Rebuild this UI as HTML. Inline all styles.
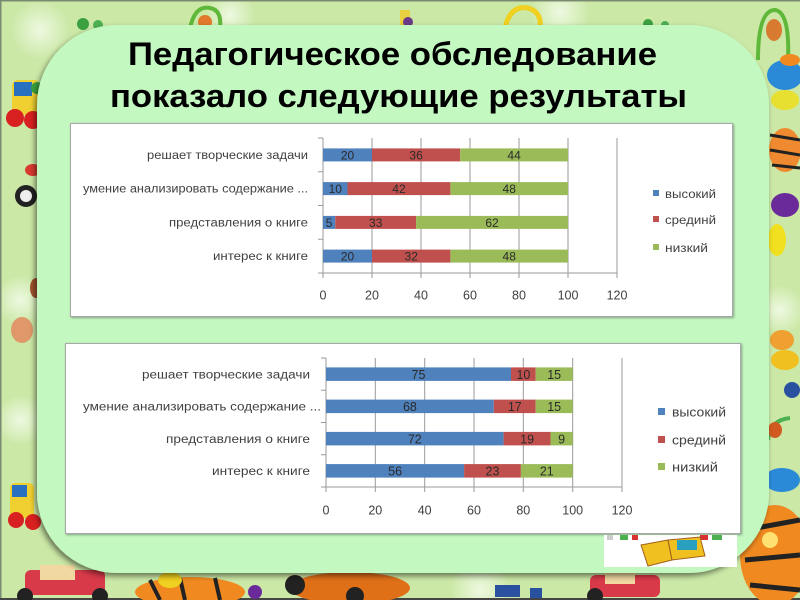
<!DOCTYPE html>
<html><head><meta charset="utf-8">
<style>
html,body{margin:0;padding:0;background:#cde9a8;}
svg{display:block;}
text{font-family:"Liberation Sans",sans-serif;}
</style></head>
<body>
<svg width="800" height="600" viewBox="0 0 800 600" xmlns="http://www.w3.org/2000/svg">
<defs>
<radialGradient id="bgspot" cx="0.5" cy="0.5" r="0.5">
<stop offset="0" stop-color="#f2fbe8" stop-opacity="0.9"/>
<stop offset="1" stop-color="#f2fbe8" stop-opacity="0"/>
</radialGradient>
<filter id="sh" x="-5%" y="-5%" width="110%" height="110%">
<feGaussianBlur in="SourceAlpha" stdDeviation="3"/>
<feOffset dx="-2" dy="3" result="b"/>
<feComponentTransfer><feFuncA type="linear" slope="0.5"/></feComponentTransfer>
<feMerge><feMergeNode/><feMergeNode in="SourceGraphic"/></feMerge>
</filter>
<filter id="sh2" x="-5%" y="-5%" width="110%" height="110%">
<feGaussianBlur in="SourceAlpha" stdDeviation="1.2"/>
<feOffset dx="1" dy="1" result="b"/>
<feComponentTransfer><feFuncA type="linear" slope="0.35"/></feComponentTransfer>
<feMerge><feMergeNode/><feMergeNode in="SourceGraphic"/></feMerge>
</filter>
</defs>

<!-- background -->
<rect x="0" y="0" width="800" height="600" fill="#cbe8a6"/>
<circle cx="40" cy="30" r="30" fill="url(#bgspot)"/>
<circle cx="230" cy="15" r="25" fill="url(#bgspot)"/>
<circle cx="560" cy="12" r="30" fill="url(#bgspot)"/>
<circle cx="20" cy="300" r="25" fill="url(#bgspot)"/>
<circle cx="20" cy="420" r="25" fill="url(#bgspot)"/>
<circle cx="780" cy="310" r="25" fill="url(#bgspot)"/>
<circle cx="480" cy="590" r="30" fill="url(#bgspot)"/>
<rect x="0" y="0" width="800" height="1.5" fill="#7a8a70"/>
<rect x="0" y="0" width="1.5" height="600" fill="#7a8a70"/>
<rect x="0" y="598" width="800" height="2" fill="#444"/>

<!-- top toys -->
<path d="M190 28 Q195 5 210 8 Q222 10 220 28" fill="none" stroke="#5fb83a" stroke-width="4"/>
<circle cx="205" cy="22" r="7" fill="#e07a2a"/>
<circle cx="83" cy="24" r="6" fill="#3aa040"/>
<circle cx="98" cy="25" r="5" fill="#4cb050"/>
<rect x="400" y="10" width="10" height="18" fill="#e8d040"/>
<circle cx="408" cy="22" r="5" fill="#6a3a8a"/>
<path d="M505 28 Q510 5 528 8 Q542 12 540 28" fill="none" stroke="#f0d020" stroke-width="5"/>
<circle cx="648" cy="24" r="5" fill="#3aa040"/>
<circle cx="665" cy="25" r="4" fill="#4cb050"/>
<!-- right toys -->
<path d="M758 60 Q758 10 775 10 Q790 12 788 60" fill="none" stroke="#5fb83a" stroke-width="4"/>
<ellipse cx="774" cy="30" rx="8" ry="11" fill="#d87a30"/>
<ellipse cx="785" cy="75" rx="18" ry="15" fill="#2a8ad8"/>
<ellipse cx="790" cy="60" rx="10" ry="6" fill="#f08a20"/>
<ellipse cx="785" cy="100" rx="14" ry="10" fill="#e8e030"/>
<ellipse cx="785" cy="150" rx="16" ry="22" fill="#f08a30"/>
<path d="M770 135 L800 140 M770 150 L800 155 M772 165 L800 168" stroke="#222" stroke-width="3"/>
<ellipse cx="785" cy="205" rx="14" ry="12" fill="#6a2a9a"/>
<ellipse cx="777" cy="240" rx="9" ry="16" fill="#f0e020"/>
<ellipse cx="782" cy="340" rx="12" ry="10" fill="#f0a030"/>
<ellipse cx="785" cy="360" rx="14" ry="10" fill="#f0c020"/>
<circle cx="792" cy="390" r="8" fill="#2a50a0"/>
<path d="M768 440 Q770 420 790 418" fill="none" stroke="#4cb050" stroke-width="4"/>
<ellipse cx="775" cy="430" rx="7" ry="8" fill="#d05a20"/>
<ellipse cx="782" cy="480" rx="18" ry="12" fill="#2a8ad8"/>
<!-- right bottom tiger -->
<ellipse cx="775" cy="555" rx="35" ry="50" fill="#f08a20"/>
<path d="M745 530 L800 520 M745 560 L800 555 M750 585 L800 590" stroke="#222" stroke-width="5"/>
<circle cx="770" cy="540" r="8" fill="#ffe070"/>
<!-- left toys -->
<rect x="12" y="80" width="28" height="35" rx="6" fill="#f0d030"/>
<rect x="14" y="82" width="18" height="14" fill="#2a70c0"/>
<circle cx="15" cy="118" r="9" fill="#d82020"/>
<circle cx="33" cy="120" r="9" fill="#d82020"/>
<circle cx="37" cy="88" r="6" fill="#3aa040"/>
<ellipse cx="33" cy="170" rx="8" ry="6" fill="#d83a30"/>
<circle cx="26" cy="196" r="11" fill="#222"/>
<circle cx="26" cy="196" r="6" fill="#eee"/>
<ellipse cx="36" cy="288" rx="6" ry="10" fill="#a0522d"/>
<ellipse cx="22" cy="330" rx="11" ry="13" fill="#e0986a"/>
<rect x="10" y="483" width="24" height="35" rx="5" fill="#f0d030"/>
<rect x="12" y="485" width="15" height="12" fill="#2a70c0"/>
<circle cx="16" cy="520" r="8" fill="#d82020"/>
<circle cx="33" cy="522" r="8" fill="#d82020"/>
<!-- bottom toys -->
<rect x="25" y="570" width="80" height="25" rx="6" fill="#d83a4a"/>
<rect x="40" y="565" width="35" height="15" fill="#f0d8a0"/>
<circle cx="25" cy="596" r="8" fill="#222"/>
<circle cx="100" cy="596" r="8" fill="#222"/>
<ellipse cx="190" cy="592" rx="55" ry="15" fill="#f08a20"/>
<path d="M150 580 L160 600 M180 578 L185 600 M215 578 L220 600" stroke="#222" stroke-width="4"/>
<ellipse cx="170" cy="580" rx="12" ry="8" fill="#f0d020"/>
<circle cx="255" cy="592" r="7" fill="#6a2a9a"/>
<ellipse cx="350" cy="588" rx="60" ry="16" fill="#e07018"/>
<circle cx="295" cy="585" r="10" fill="#222"/>
<circle cx="355" cy="596" r="9" fill="#222"/>
<rect x="495" y="585" width="25" height="12" fill="#2a50a0"/>
<rect x="530" y="588" width="12" height="10" fill="#2a50a0"/>
<rect x="590" y="575" width="70" height="22" rx="6" fill="#d83a4a"/>
<rect x="605" y="572" width="30" height="12" fill="#f0d8a0"/>
<circle cx="595" cy="596" r="8" fill="#222"/>

<!-- main panel -->
<rect x="37" y="25" width="732" height="548" rx="80" ry="80" fill="#c3f8c1" filter="url(#sh)"/>

<!-- title -->
<text x="392.5" y="65" font-size="32" font-weight="bold" text-anchor="middle" fill="#000" textLength="529" lengthAdjust="spacingAndGlyphs">Педагогическое обследование</text>
<text x="398.5" y="107" font-size="32" font-weight="bold" text-anchor="middle" fill="#000" textLength="577" lengthAdjust="spacingAndGlyphs">показало следующие результаты</text>

<!-- chart 1 -->
<rect x="70.5" y="123.5" width="662" height="193" fill="#fff" stroke="#a8a8a8" stroke-width="1" filter="url(#sh2)"/>
<g stroke="#9a9a9a" stroke-width="1">
<line x1="372" y1="138" x2="372" y2="278"/>
<line x1="421" y1="138" x2="421" y2="278"/>
<line x1="470" y1="138" x2="470" y2="278"/>
<line x1="519" y1="138" x2="519" y2="278"/>
<line x1="568" y1="138" x2="568" y2="278"/>
<line x1="617" y1="138" x2="617" y2="278"/>
<line x1="323" y1="138" x2="323" y2="278"/>
<line x1="318" y1="273" x2="617" y2="273"/>
<line x1="318" y1="138" x2="323" y2="138"/>
<line x1="318" y1="171.75" x2="323" y2="171.75"/>
<line x1="318" y1="205.5" x2="323" y2="205.5"/>
<line x1="318" y1="239.25" x2="323" y2="239.25"/>
</g>
<!-- bars chart1 -->
<rect x="323" y="148.4" width="49" height="13" fill="#4f81bd"/>
<rect x="372" y="148.4" width="88.2" height="13" fill="#c0504d"/>
<rect x="460.2" y="148.4" width="107.8" height="13" fill="#9bbb59"/>
<rect x="323" y="182.1" width="24.5" height="13" fill="#4f81bd"/>
<rect x="347.5" y="182.1" width="102.9" height="13" fill="#c0504d"/>
<rect x="450.4" y="182.1" width="117.6" height="13" fill="#9bbb59"/>
<rect x="323" y="215.9" width="12.25" height="13" fill="#4f81bd"/>
<rect x="335.25" y="215.9" width="80.85" height="13" fill="#c0504d"/>
<rect x="416.1" y="215.9" width="151.9" height="13" fill="#9bbb59"/>
<rect x="323" y="249.6" width="49" height="13" fill="#4f81bd"/>
<rect x="372" y="249.6" width="78.4" height="13" fill="#c0504d"/>
<rect x="450.4" y="249.6" width="117.6" height="13" fill="#9bbb59"/>
<g font-size="12" fill="#2a2a2a" text-anchor="middle">
<text x="347.5" y="159.5">20</text><text x="416.1" y="159.5">36</text><text x="514.1" y="159.5">44</text>
<text x="335.25" y="193">10</text><text x="398.95" y="193">42</text><text x="509.2" y="193">48</text>
<text x="329.1" y="227">5</text><text x="375.7" y="227">33</text><text x="492" y="227">62</text>
<text x="347.5" y="260.5">20</text><text x="411.2" y="260.5">32</text><text x="509.2" y="260.5">48</text>
</g>
<g font-size="11.5" fill="#404040" text-anchor="end">
<text x="308" y="159" textLength="161" lengthAdjust="spacingAndGlyphs">решает творческие задачи</text>
<text x="308" y="192.5" textLength="225" lengthAdjust="spacingAndGlyphs">умение анализировать содержание ...</text>
<text x="308" y="226.5" textLength="139" lengthAdjust="spacingAndGlyphs">представления о книге</text>
<text x="308" y="260" textLength="95" lengthAdjust="spacingAndGlyphs">интерес к книге</text>
</g>
<g font-size="12.5" fill="#404040" text-anchor="middle">
<text x="323" y="299.5">0</text><text x="372" y="299.5">20</text><text x="421" y="299.5">40</text>
<text x="470" y="299.5">60</text><text x="519" y="299.5">80</text><text x="568" y="299.5">100</text><text x="617" y="299.5">120</text>
</g>
<rect x="653" y="190" width="6" height="6" fill="#4f81bd"/>
<rect x="653" y="216" width="6" height="6" fill="#c0504d"/>
<rect x="653" y="244" width="6" height="6" fill="#9bbb59"/>
<g font-size="12" fill="#404040">
<text x="665" y="198" textLength="51" lengthAdjust="spacingAndGlyphs">высокий</text>
<text x="665" y="224" textLength="51" lengthAdjust="spacingAndGlyphs">срединй</text>
<text x="665" y="252" textLength="43" lengthAdjust="spacingAndGlyphs">низкий</text>
</g>

<!-- chart 2 -->
<rect x="65.5" y="343.5" width="675" height="190" fill="#fff" stroke="#a8a8a8" stroke-width="1" filter="url(#sh2)"/>
<g stroke="#9a9a9a" stroke-width="1">
<line x1="375.3" y1="358" x2="375.3" y2="492"/>
<line x1="424.7" y1="358" x2="424.7" y2="492"/>
<line x1="474" y1="358" x2="474" y2="492"/>
<line x1="523.3" y1="358" x2="523.3" y2="492"/>
<line x1="572.7" y1="358" x2="572.7" y2="492"/>
<line x1="622" y1="358" x2="622" y2="492"/>
<line x1="326" y1="358" x2="326" y2="492"/>
<line x1="321" y1="487" x2="622" y2="487"/>
<line x1="321" y1="358" x2="326" y2="358"/>
<line x1="321" y1="390.25" x2="326" y2="390.25"/>
<line x1="321" y1="422.5" x2="326" y2="422.5"/>
<line x1="321" y1="454.75" x2="326" y2="454.75"/>
</g>
<rect x="326" y="367.4" width="185" height="13.5" fill="#4f81bd"/>
<rect x="511" y="367.4" width="24.7" height="13.5" fill="#c0504d"/>
<rect x="535.7" y="367.4" width="37" height="13.5" fill="#9bbb59"/>
<rect x="326" y="399.6" width="167.8" height="13.5" fill="#4f81bd"/>
<rect x="493.8" y="399.6" width="41.9" height="13.5" fill="#c0504d"/>
<rect x="535.7" y="399.6" width="37" height="13.5" fill="#9bbb59"/>
<rect x="326" y="431.9" width="177.6" height="13.5" fill="#4f81bd"/>
<rect x="503.6" y="431.9" width="46.9" height="13.5" fill="#c0504d"/>
<rect x="550.5" y="431.9" width="22.2" height="13.5" fill="#9bbb59"/>
<rect x="326" y="464.1" width="138.1" height="13.5" fill="#4f81bd"/>
<rect x="464.1" y="464.1" width="56.8" height="13.5" fill="#c0504d"/>
<rect x="520.9" y="464.1" width="51.8" height="13.5" fill="#9bbb59"/>
<g font-size="12.5" fill="#2a2a2a" text-anchor="middle">
<text x="418.5" y="379">75</text><text x="523.4" y="379">10</text><text x="554.2" y="379">15</text>
<text x="409.9" y="411">68</text><text x="514.8" y="411">17</text><text x="554.2" y="411">15</text>
<text x="414.8" y="443.5">72</text><text x="527.1" y="443.5">19</text><text x="561.6" y="443.5">9</text>
<text x="395.1" y="475.5">56</text><text x="492.5" y="475.5">23</text><text x="546.8" y="475.5">21</text>
</g>
<g font-size="11.5" fill="#404040" text-anchor="end">
<text x="310" y="378.5" textLength="168" lengthAdjust="spacingAndGlyphs">решает творческие задачи</text>
<text x="321" y="410.5" textLength="238" lengthAdjust="spacingAndGlyphs">умение анализировать содержание ...</text>
<text x="310" y="443" textLength="144" lengthAdjust="spacingAndGlyphs">представления о книге</text>
<text x="310" y="475" textLength="98" lengthAdjust="spacingAndGlyphs">интерес к книге</text>
</g>
<g font-size="12.5" fill="#404040" text-anchor="middle">
<text x="326" y="514.5">0</text><text x="375.3" y="514.5">20</text><text x="424.7" y="514.5">40</text>
<text x="474" y="514.5">60</text><text x="523.3" y="514.5">80</text><text x="572.7" y="514.5">100</text><text x="622" y="514.5">120</text>
</g>
<rect x="658" y="408" width="7" height="7" fill="#4f81bd"/>
<rect x="658" y="436" width="7" height="7" fill="#c0504d"/>
<rect x="658" y="463" width="7" height="7" fill="#9bbb59"/>
<g font-size="12.5" fill="#404040">
<text x="672" y="416.5" textLength="54" lengthAdjust="spacingAndGlyphs">высокий</text>
<text x="672" y="444.5" textLength="54" lengthAdjust="spacingAndGlyphs">срединй</text>
<text x="672" y="471.5" textLength="46" lengthAdjust="spacingAndGlyphs">низкий</text>
</g>

<!-- bottom-right picture -->
<rect x="604" y="535" width="133" height="32" fill="#fff"/>
<rect x="607" y="535" width="6" height="5" fill="#ccc"/>
<rect x="620" y="535" width="8" height="5" fill="#4cb050"/>
<rect x="632" y="535" width="6" height="5" fill="#d83030"/>
<rect x="700" y="535" width="8" height="5" fill="#d83030"/>
<rect x="712" y="535" width="10" height="5" fill="#4cb050"/>
<path d="M641 545 L668 540 L672 560 L648 566 Z" fill="#f0c020" stroke="#a0601a" stroke-width="1"/>
<path d="M668 540 L700 537 L705 556 L672 560 Z" fill="#f0c020" stroke="#a0601a" stroke-width="1"/>
<rect x="677" y="540" width="20" height="10" fill="#2aa0c0"/>
</svg>
</body></html>
